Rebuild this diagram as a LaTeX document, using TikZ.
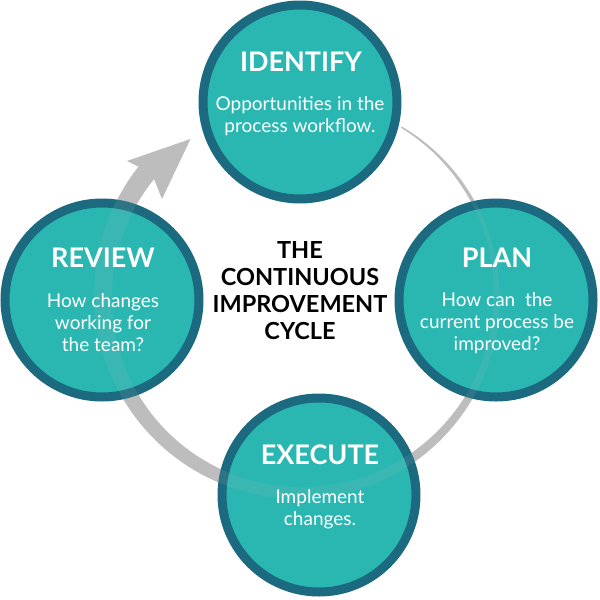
\documentclass[tikz,border=0pt]{standalone}
\usepackage{fontspec}
\setmainfont{Lato}
\definecolor{tealfill}{HTML}{2AB7B2}
\definecolor{tealring}{HTML}{1B6A80}
\definecolor{arcgray}{HTML}{BDBDBD}
\begin{document}
\begin{tikzpicture}[x=1pt,y=-1pt,
  stage/.style={circle,draw=tealring,fill=tealfill,line width=9pt,minimum size=194pt,inner sep=0pt},
  ttl/.style={text=white,font=\fontsize{27}{30}\selectfont\bfseries,anchor=center},
  body/.style={text=white,font=\fontsize{19}{22}\selectfont,align=center,anchor=center},
  ctr/.style={text=black,font=\fontsize{23.5}{27}\selectfont\bfseries,align=center,anchor=center}]
\useasboundingbox (0,0) rectangle (600,600);
\def\cyclearc{
  plot[domain=59:-218.7,samples=120] ({300+(197+0.5*(1.5+(59-\x)*0.0666))*cos(\x)},{296-(197+0.5*(1.5+(59-\x)*0.0666))*sin(\x)})
  -- (127,161) -- (190.5,139) -- (162,199) --
  plot[domain=-218.7:59,samples=120] ({300+(197-0.5*(1.5+(59-\x)*0.0666))*cos(\x)},{296-(197-0.5*(1.5+(59-\x)*0.0666))*sin(\x)})
  -- cycle}
\fill[arcgray] \cyclearc;
\node[stage] (identify) at (300,102) {};
\node[stage] (review) at (102,300) {};
\node[stage] (plan) at (496,300) {};
\node[stage] (execute) at (319,495) {};
\fill[arcgray,opacity=0.12] \cyclearc;
\node[ttl] (t1) at (301,62) {IDENTIFY};
\node[body] (b1) at (300,116) {Opportunities in the\\process workflow.};
\node[ttl] (t2) at (103,258) {REVIEW};
\node[body] (b2) at (103,323) {How changes\\working for\\the team?};
\node[ttl] (t3) at (497,258) {PLAN};
\node[body] (b3) at (497,323) {How can~ the\\current process be\\improved?};
\node[ttl] (t4) at (320,455) {EXECUTE};
\node[body] (b4) at (320,509) {Implement\\changes.};
\node[ctr] (center) at (300,291) {THE\\CONTINUOUS\\IMPROVEMENT\\CYCLE};
\end{tikzpicture}
\end{document}
